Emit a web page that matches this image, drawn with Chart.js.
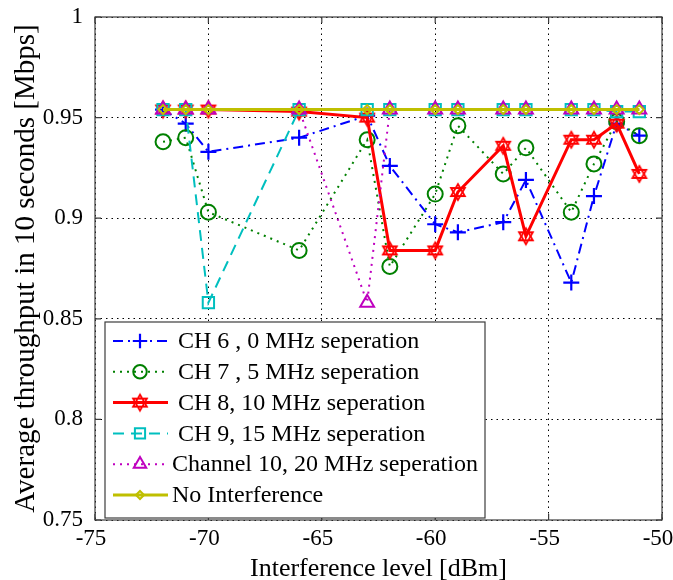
<!DOCTYPE html>
<html>
<head>
<meta charset="utf-8">
<script src="https://cdn.jsdelivr.net/npm/chart.js@4/dist/chart.umd.min.js"></script>
<style>
  html, body { margin: 0; padding: 0; background: #ffffff; overflow: hidden; }
  #wrap { width: 673px; height: 580px; position: relative; }
</style>
</head>
<body>
<div id="wrap"><canvas id="c"></canvas></div>
<script>
// ---------- data ----------
const levels = [-72, -71, -70, -66, -63, -62, -60, -59, -57, -56, -54, -53, -52, -51];

const ch6  = [0.954, 0.947, 0.933, 0.940, 0.951, 0.926, 0.897, 0.893, 0.898, 0.919, 0.868, 0.911, 0.947, 0.941];
const ch7  = [0.938, 0.940, 0.903, 0.884, 0.939, 0.876, 0.912, 0.946, 0.922, 0.935, 0.903, 0.927, 0.948, 0.941];
const ch8  = [0.954, 0.954, 0.954, 0.953, 0.950, 0.884, 0.884, 0.913, 0.936, 0.891, 0.939, 0.939, 0.947, 0.922];
const ch9  = [0.954, 0.954, 0.858, 0.954, 0.954, 0.954, 0.954, 0.954, 0.954, 0.954, 0.954, 0.954, 0.953, 0.953];
const ch10 = [0.954, 0.954, 0.954, 0.954, 0.858, 0.954, 0.954, 0.954, 0.954, 0.954, 0.954, 0.954, 0.954, 0.954];
const noIf = [0.954, 0.954, 0.954, 0.954, 0.954, 0.954, 0.954, 0.954, 0.954, 0.954, 0.954, 0.954, 0.954, 0.954];

const seriesLabels = [
  ' CH 6 , 0 MHz seperation',
  ' CH 7 , 5 MHz seperation',
  ' CH 8, 10 MHz seperation',
  ' CH 9, 15 MHz seperation',
  'Channel 10, 20 MHz seperation',
  'No Interference'
];

const xTickValues = [-75, -70, -65, -60, -55, -50];
const xTickLabels = ['-75', '-70', '-65', '-60', '-55', '-50'];
const yTickValues = [0.75, 0.8, 0.85, 0.9, 0.95, 1];
const yTickLabels = ['0.75', '0.8', '0.85', '0.9', '0.95', '1'];

const xTitle = 'Interference level [dBm]';
const yTitle = 'Average throughput in 10 seconds [Mbps]';

// ---------- styling ----------
const SERIF = "'Liberation Serif', 'DejaVu Serif', serif";

function hexagram(color, r, lw) {
  const s = Math.ceil(r * 2 + lw * 2 + 2);
  const cv = document.createElement('canvas');
  cv.width = s; cv.height = s;
  const g = cv.getContext('2d');
  g.strokeStyle = color; g.lineWidth = lw; g.lineJoin = 'miter';
  const c = s / 2;
  for (let k = 0; k < 2; k++) {
    g.beginPath();
    for (let i = 0; i < 3; i++) {
      const a = -Math.PI / 2 + k * Math.PI + i * 2 * Math.PI / 3;
      const px = c + r * Math.cos(a), py = c + r * Math.sin(a);
      if (i === 0) g.moveTo(px, py); else g.lineTo(px, py);
    }
    g.closePath();
    g.stroke();
  }
  return cv;
}
const redStar = hexagram('#ff0000', 8, 1.8);

function pts(vals) { return levels.map((x, i) => ({ x: x, y: vals[i] })); }

const datasets = [
  { label: seriesLabels[0], data: pts(ch6), borderColor: '#0000ff', borderWidth: 2, borderDash: [10, 5, 2, 5],
    pointStyle: 'cross', pointRadius: 8, pointBorderWidth: 2.2, pointBorderColor: '#0000ff', pointBackgroundColor: 'rgba(0,0,0,0)', order: 6 },
  { label: seriesLabels[1], data: pts(ch7), borderColor: '#008000', borderWidth: 2, borderDash: [2, 5],
    pointStyle: 'circle', pointRadius: 7.5, pointBorderWidth: 2, pointBorderColor: '#008000', pointBackgroundColor: 'rgba(0,0,0,0)', order: 5 },
  { label: seriesLabels[2], data: pts(ch8), borderColor: '#ff0000', borderWidth: 3, borderDash: [],
    pointStyle: redStar, pointRadius: 8, pointBorderWidth: 2, pointBorderColor: '#ff0000', pointBackgroundColor: 'rgba(0,0,0,0)', order: 4 },
  { label: seriesLabels[3], data: pts(ch9), borderColor: '#00bfbf', borderWidth: 2, borderDash: [11, 7],
    pointStyle: 'rect', pointRadius: 8, pointBorderWidth: 2, pointBorderColor: '#00bfbf', pointBackgroundColor: 'rgba(0,0,0,0)', order: 3 },
  { label: seriesLabels[4], data: pts(ch10), borderColor: '#bf00bf', borderWidth: 2, borderDash: [2, 5],
    pointStyle: 'triangle', pointRadius: 8, pointBorderWidth: 2, pointBorderColor: '#bf00bf', pointBackgroundColor: 'rgba(0,0,0,0)', order: 2 },
  { label: seriesLabels[5], data: pts(noIf), borderColor: '#bfbf00', borderWidth: 3, borderDash: [],
    pointStyle: 'rectRot', pointRadius: 4.5, pointBorderWidth: 2, pointBorderColor: '#bfbf00', pointBackgroundColor: 'rgba(0,0,0,0)', order: 1 }
];
datasets.forEach(d => { d.fill = false; d.tension = 0; d.pointHoverRadius = d.pointRadius; });

// frame, inner tick marks, x tick labels and boxed legend inside plot
const framePlugin = {
  id: 'frameAndLegend',
  afterDatasetsDraw(chart) {
    const { ctx, chartArea: a, scales } = chart;
    ctx.save();
    // frame
    ctx.strokeStyle = '#3c3c3c';
    ctx.lineWidth = 1.2;
    ctx.setLineDash([]);
    ctx.strokeRect(a.left, a.top, a.right - a.left, a.bottom - a.top);
    // inner ticks
    const tl = 6;
    ctx.beginPath();
    xTickValues.forEach(v => {
      const px = scales.x.getPixelForValue(v);
      ctx.moveTo(px, a.bottom); ctx.lineTo(px, a.bottom - tl);
      ctx.moveTo(px, a.top); ctx.lineTo(px, a.top + tl);
    });
    yTickValues.forEach(v => {
      const py = scales.y.getPixelForValue(v);
      ctx.moveTo(a.left, py); ctx.lineTo(a.left + tl, py);
      ctx.moveTo(a.right, py); ctx.lineTo(a.right - tl, py);
    });
    ctx.stroke();

    // x tick labels (slightly left of the grid line, as in the original)
    ctx.fillStyle = '#000000';
    ctx.font = '23px ' + SERIF;
    ctx.textAlign = 'center';
    ctx.textBaseline = 'top';
    xTickValues.forEach((v, i) => {
      ctx.fillText(xTickLabels[i], scales.x.getPixelForValue(v) - 4, a.bottom + 7);
    });

    // legend box
    const lx = a.left + 10, rowH = 30.8;
    const lw = 380, lh = 196;
    const ly = a.bottom - 2 - lh;
    ctx.fillStyle = '#ffffff';
    ctx.fillRect(lx, ly, lw, lh);
    ctx.strokeStyle = '#3c3c3c';
    ctx.lineWidth = 1.2;
    ctx.strokeRect(lx, ly, lw, lh);
    datasets.forEach((d, i) => {
      const cy = ly + 19 + i * rowH;
      ctx.save();
      ctx.strokeStyle = d.borderColor;
      ctx.lineWidth = d.borderWidth;
      ctx.setLineDash(d.borderDash || []);
      ctx.beginPath();
      ctx.moveTo(lx + 8, cy); ctx.lineTo(lx + 63, cy);
      ctx.stroke();
      ctx.setLineDash([]);
      ctx.strokeStyle = d.pointBorderColor;
      ctx.fillStyle = 'rgba(0,0,0,0)';
      ctx.lineWidth = d.pointBorderWidth;
      const opts = { pointStyle: d.pointStyle, radius: d.pointRadius * 0.9, borderWidth: d.pointBorderWidth, rotation: 0 };
      Chart.helpers.drawPoint(ctx, opts, lx + 35, cy);
      ctx.restore();
      ctx.fillStyle = '#000000';
      ctx.font = '24px ' + SERIF;
      ctx.textBaseline = 'middle';
      ctx.textAlign = 'left';
      ctx.fillText(d.label, lx + 67, cy + 1);
    });
    ctx.restore();
  }
};

new Chart(document.getElementById('c'), {
  type: 'line',
  data: { datasets: datasets },
  options: {
    responsive: true,
    maintainAspectRatio: false,
    animation: false,
    layout: { padding: { top: 17, right: 11, left: 0, bottom: 0 } },
    plugins: { legend: { display: false }, tooltip: { enabled: false } },
    scales: {
      x: {
        type: 'linear', min: -75, max: -50,
        afterFit(s) { s.height = 60; s.paddingLeft = 0; s.paddingRight = 0; },
        afterBuildTicks(s) { s.ticks = xTickValues.map(v => ({ value: v })); },
        ticks: { display: false },
        grid: { color: '#000', lineWidth: 1, drawTicks: false },
        border: { display: false, dash: [1.5, 4] },
        title: { display: true, text: xTitle, color: '#000', font: { family: SERIF, size: 26, lineHeight: 1 }, padding: { top: 0, bottom: -2 } }
      },
      y: {
        type: 'linear', min: 0.75, max: 1,
        afterFit(s) { s.width = 95; s.paddingTop = 0; s.paddingBottom = 0; },
        afterBuildTicks(s) { s.ticks = yTickValues.map(v => ({ value: v })); },
        ticks: {
          color: '#000', font: { family: SERIF, size: 23 }, padding: 12,
          callback: (v, i) => yTickLabels[i]
        },
        grid: { color: '#000', lineWidth: 1, drawTicks: false },
        border: { display: false, dash: [1.5, 4] },
        title: { display: true, text: yTitle, color: '#000', font: { family: SERIF, size: 29, lineHeight: 1 }, padding: { top: 12, bottom: 0 } }
      }
    }
  },
  plugins: [framePlugin]
});
</script>
</body>
</html>
